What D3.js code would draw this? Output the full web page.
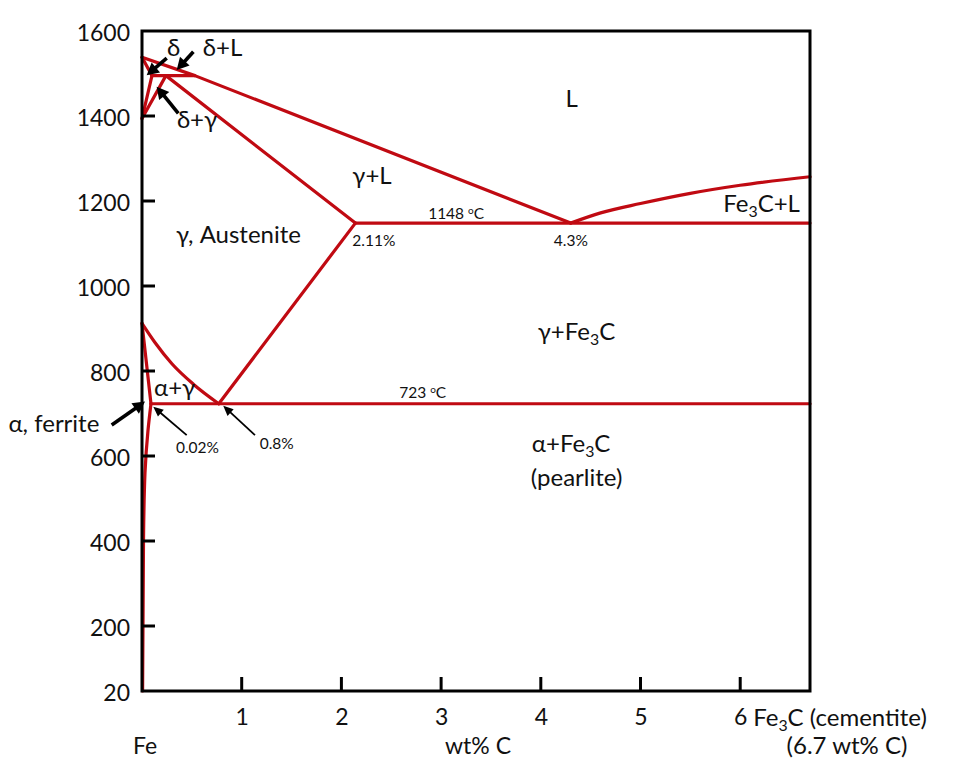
<!DOCTYPE html>
<html>
<head>
<meta charset="utf-8">
<script src="https://cdn.jsdelivr.net/npm/d3@7"></script>
<style>
  html, body { margin: 0; padding: 0; background: #fff; }
  svg { display: block; font-family: Lato, "Open Sans", "Liberation Sans", sans-serif; }
</style>
</head>
<body>
<svg id="chart" width="971" height="764"></svg>
<script>
// ---------------- data (wt% C, temperature °C) ----------------
const yTickValues = [1600, 1400, 1200, 1000, 800, 600, 400, 200, 20];
const xTickValues = [1, 2, 3, 4, 5, 6];

const liquidus          = [[0, 1538], [0.53, 1495], [4.3, 1148]];
const deltaSolvus       = [[0, 1538], [0.1, 1495]];
const peritecticLine    = [[0.1, 1495], [0.53, 1495]];
const deltaLower        = [[0, 1394], [0.1, 1495]];
const gammaUpper        = [[0, 1394], [0.24, 1495]];
const solidus           = [[0.24, 1495], [2.14, 1148]];
const eutecticLine      = [[2.14, 1148], [6.7, 1148]];
const cementiteLiquidus = [[4.3, 1148], [4.6, 1172], [5.0, 1194], [5.5, 1218], [6.0, 1237], [6.7, 1257]];
const a3Line            = [[0, 912], [0.13, 867], [0.3, 817], [0.515, 769], [0.77, 723]];
const acmLine           = [[0.77, 723], [2.14, 1148]];
const alphaGamma        = [[0, 912], [0.09, 723]];
const eutectoidLine     = [[0.09, 723], [6.7, 723]];
const alphaSolvus       = [[0.09, 723], [0.06, 660], [0.03, 560], [0.015, 400], [0.006, 20]];

const straightLines = [liquidus, deltaSolvus, peritecticLine, deltaLower, gammaUpper,
                       solidus, eutecticLine, acmLine, alphaGamma, eutectoidLine];
const smoothLines = [cementiteLiquidus, a3Line];
const steepLines = [alphaSolvus];

// region / point labels
const labelTexts = ["L", "γ+L", "1148", "2.11%", "4.3%", "γ, Austenite", "Fe3C+L", "γ+Fe3C",
                    "723", "α+γ", "α, ferrite", "0.02%", "0.8%", "α+Fe3C", "(pearlite)", "δ", "δ+L", "δ+γ"];
const labelWt   = [4.31, 2.11, 2.87, 2.11, 4.13, 0.34, 5.83, 3.97, 2.58, 0.12, -1.34, 0.34, 1.18, 3.91, 3.90, 0.25, 0.61, 0.35];
const labelT    = [1421, 1240, 1158, 1094, 1094, 1101, 1174, 873, 736, 741, 656, 607, 616, 610, 530, 1541, 1541, 1372];
const labelSize = ["big", "big", "small", "small", "small", "big", "big", "big", "small", "big", "big", "small", "small", "big", "big", "big", "big", "big"];

// arrows: tail (wt, T) -> head (wt, T)
const arrowTail = [[0.248, 1536], [0.515, 1551], [0.364, 1406], [-0.304, 673], [0.448, 649], [1.133, 649]];
const arrowHead = [[0.047, 1496], [0.348, 1508], [0.147, 1469], [0.03, 728], [0.113, 716], [0.815, 718]];
const arrowThick = [true, true, true, true, false, false];

// ---------------- scales ----------------
const svg = d3.select("#chart");
const x = d3.scaleLinear().domain([0, 6.7]).range([142, 810]);
const y = d3.scaleLinear().domain([20, 200, 1600]).range([691, 626, 31]);

const RED = "#c00a12";
const TXT = "#111";

// phase lines
const lineStraight = d3.line().x(d => x(d[0])).y(d => y(d[1]));
const lineSmooth = d3.line().x(d => x(d[0])).y(d => y(d[1])).curve(d3.curveMonotoneX);
const lineSteep = d3.line().x(d => x(d[0])).y(d => y(d[1])).curve(d3.curveMonotoneY);

const g = svg.append("g")
  .attr("fill", "none").attr("stroke", RED).attr("stroke-width", 3.2)
  .attr("stroke-linejoin", "round").attr("stroke-linecap", "round");
g.selectAll("path.straight").data(straightLines).join("path").attr("class", "straight").attr("d", lineStraight);
g.selectAll("path.smooth").data(smoothLines).join("path").attr("class", "smooth").attr("d", lineSmooth);
g.selectAll("path.steep").data(steepLines).join("path").attr("class", "steep")
  .attr("d", d => lineSteep(d.slice().sort((a, b) => a[1] - b[1])));

// frame
const x0 = x(0), x1 = x(6.7), yTop = y(1600), yBot = y(20);
svg.append("path")
  .attr("d", `M${x0},${yTop}H${x1}V${yBot}H${x0}Z`)
  .attr("fill", "none").attr("stroke", "#000").attr("stroke-width", 3);

// y axis (ticks inside)
const yAxis = d3.axisLeft(y).tickValues(yTickValues).tickSize(0).tickPadding(12).tickFormat(d3.format("d"));
const gy = svg.append("g").attr("transform", `translate(${x0},0)`).call(yAxis);
gy.select(".domain").remove();
gy.selectAll("text").attr("font-size", 23).attr("fill", TXT).attr("dy", "0.42em")
  .attr("font-family", "Lato, sans-serif");
svg.selectAll("line.ytick").data(yTickValues.filter(v => v !== 1600 && v !== 20)).join("line")
  .attr("class", "ytick")
  .attr("x1", x0).attr("x2", x0 + 13)
  .attr("y1", d => y(d)).attr("y2", d => y(d))
  .attr("stroke", "#000").attr("stroke-width", 3);

// x axis (ticks inside)
const xAxis = d3.axisBottom(x).tickValues(xTickValues).tickSize(0).tickPadding(18).tickFormat(d3.format("d"));
const gx = svg.append("g").attr("transform", `translate(0,${yBot})`).call(xAxis);
gx.select(".domain").remove();
gx.selectAll("text").attr("font-size", 23).attr("fill", TXT).attr("font-family", "Lato, sans-serif");
svg.selectAll("line.xtick").data(xTickValues).join("line")
  .attr("class", "xtick")
  .attr("x1", d => x(d)).attr("x2", d => x(d))
  .attr("y1", yBot).attr("y2", yBot - 14)
  .attr("stroke", "#000").attr("stroke-width", 3);

// text helper: subscript the 3 in Fe3C
function writeFormula(sel, str, size) {
  const parts = str.split(/(Fe3C)/);
  parts.forEach(p => {
    if (p === "Fe3C") {
      sel.append("tspan").text("Fe");
      sel.append("tspan").text("3").attr("font-size", size * 0.66).attr("dy", size * 0.22);
      sel.append("tspan").text("C").attr("dy", -size * 0.22);
    } else if (p.length) {
      sel.append("tspan").text(p);
    }
  });
}

// bottom texts
const bottom = svg.append("g").attr("font-size", 23).attr("fill", TXT);
writeFormula(bottom.append("text").attr("x", x(6) + 13).attr("y", yBot + 34.5).attr("font-size", 24), "Fe3C (cementite)", 24);
bottom.append("text").attr("x", 847).attr("y", 754).attr("font-size", 24).attr("text-anchor", "middle").text("(6.7 wt% C)");
bottom.append("text").attr("x", x(0) - 9).attr("y", 754).text("Fe");
bottom.append("text").attr("x", 478).attr("y", 754).attr("text-anchor", "middle").text("wt% C");

// labels
const lab = svg.append("g").attr("fill", TXT);
labelTexts.forEach((t, i) => {
  const size = labelSize[i] === "big" ? 24 : 15.5;
  const el = lab.append("text")
    .attr("x", x(labelWt[i])).attr("y", y(labelT[i]))
    .attr("font-size", size)
    .attr("text-anchor", t === "L" ? "middle" : "start");
  if (t === "1148" || t === "723") {
    el.append("tspan").text(t + "  ");
    el.append("tspan").text("o").attr("font-size", 10).attr("dy", -5);
    el.append("tspan").text("C").attr("dy", 5);
  } else {
    writeFormula(el, t, size);
  }
});

// arrows
const ag = svg.append("g");
arrowTail.forEach((tl, i) => {
  const hx = x(arrowHead[i][0]), hy = y(arrowHead[i][1]);
  const tx = x(tl[0]), ty = y(tl[1]);
  const thick = arrowThick[i];
  const len = thick ? 12 : 10, half = thick ? 6.5 : 4.5;
  const dx = hx - tx, dy = hy - ty, L = Math.hypot(dx, dy);
  const ux = dx / L, uy = dy / L;
  const bx = hx - ux * len, by = hy - uy * len;
  ag.append("line")
    .attr("x1", tx).attr("y1", ty).attr("x2", bx + ux).attr("y2", by + uy)
    .attr("stroke", "#000").attr("stroke-width", thick ? 3.6 : 1.8);
  ag.append("path")
    .attr("d", `M${hx},${hy}L${bx - uy * half},${by + ux * half}L${bx + uy * half},${by - ux * half}Z`)
    .attr("fill", "#000");
});
</script>
</body>
</html>
